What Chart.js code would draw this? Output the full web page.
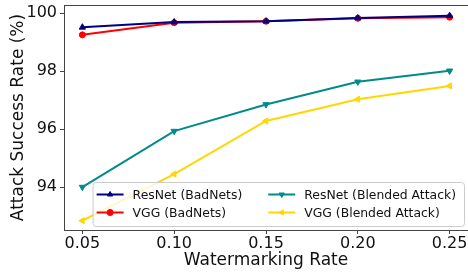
<!DOCTYPE html>
<html>
<head>
<meta charset="utf-8">
<script src="https://cdn.jsdelivr.net/npm/chart.js@4.4.0/dist/chart.umd.min.js"></script>
<style>
  html, body { margin: 0; padding: 0; background: #fff; }
  #wrap { width: 468px; height: 272px; }
</style>
</head>
<body>
<div id="wrap"><canvas id="chart" width="468" height="272"></canvas></div>
<script>
const rates = [0.05, 0.10, 0.15, 0.20, 0.25];
const resnetBadNets = [99.51, 99.69, 99.72, 99.83, 99.91];
const vggBadNets = [99.25, 99.67, 99.72, 99.82, 99.86];
const resnetBlended = [94.00, 95.93, 96.85, 97.63, 98.01];
const vggBlended = [92.84, 94.45, 96.28, 97.03, 97.49];
const xTicks = [0.05, 0.10, 0.15, 0.20, 0.25];
const yTicks = [94, 96, 98, 100];

const FONT = "'DejaVu Sans', sans-serif";

function series(label, values, color, style, rotation) {
  return {
    label,
    data: values.map((v, i) => ({ x: rates[i], y: v })),
    borderColor: color,
    backgroundColor: color,
    pointBackgroundColor: color,
    pointBorderColor: color,
    borderWidth: 2,
    pointStyle: style,
    pointRotation: rotation,
    pointRadius: style === 'circle' ? 3 : 3.6,
    pointBorderWidth: 1,
    tension: 0,
    fill: false
  };
}

// matplotlib-like frame and legend inside the axes
const framePlugin = {
  id: 'frame',
  afterDatasetsDraw(chart) {
    const { ctx, chartArea: a } = chart;
    ctx.save();
    ctx.strokeStyle = '#444';
    ctx.lineWidth = 1;
    ctx.strokeRect(a.left + 0.5, a.top + 0.5, a.right - a.left, a.bottom - a.top);

    // legend, two columns
    const sets = chart.data.datasets;
    ctx.font = '12.4px ' + FONT;
    const col1 = Math.max(ctx.measureText(sets[0].label).width, ctx.measureText(sets[1].label).width);
    const col2 = Math.max(ctx.measureText(sets[2].label).width, ctx.measureText(sets[3].label).width);
    const sample = 27, gap = 9, colGap = 26, padL = 4, padR = 8, rowH = 18;
    const w = padL + sample + gap + col1 + colGap + sample + gap + col2 + padR;
    const h = 44;
    const bx = a.right - 4 - w;
    const by = a.bottom - 4 - h;
    ctx.fillStyle = 'rgba(255,255,255,0.8)';
    ctx.strokeStyle = '#cccccc';
    ctx.lineWidth = 1;
    ctx.beginPath();
    ctx.roundRect(bx + 0.5, by + 0.5, w, h, 3);
    ctx.fill();
    ctx.stroke();

    sets.forEach((ds, i) => {
      const col = i < 2 ? 0 : 1;
      const row = i % 2;
      const x0 = bx + padL + (col === 1 ? sample + gap + col1 + colGap : 0);
      const y0 = by + 12.5 + row * rowH;
      ctx.strokeStyle = ds.borderColor;
      ctx.lineWidth = 2;
      ctx.beginPath();
      ctx.moveTo(x0, y0);
      ctx.lineTo(x0 + sample, y0);
      ctx.stroke();
      ctx.fillStyle = ds.borderColor;
      ctx.lineWidth = 1;
      Chart.helpers.drawPoint(ctx, {
        pointStyle: ds.pointStyle,
        rotation: ds.pointRotation,
        radius: 3,
        borderWidth: 1
      }, x0 + sample / 2, y0);
      ctx.fill();
      ctx.fillStyle = '#111';
      ctx.textBaseline = 'middle';
      ctx.textAlign = 'left';
      ctx.fillText(ds.label, x0 + sample + gap, y0 + 1);
    });
    ctx.restore();
  }
};

new Chart(document.getElementById('chart'), {
  type: 'line',
  data: {
    datasets: [
      series('ResNet (BadNets)', resnetBadNets, '#000080', 'triangle', 0),
      series('VGG (BadNets)', vggBadNets, '#ff0000', 'circle', 0),
      series('ResNet (Blended Attack)', resnetBlended, '#008b8b', 'triangle', 180),
      series('VGG (Blended Attack)', vggBlended, '#ffd700', 'triangle', 270)
    ]
  },
  options: {
    responsive: false,
    animation: false,
    clip: false,
    layout: { autoPadding: false, padding: { top: 5, right: 0, left: 8, bottom: 0 } },
    plugins: {
      legend: { display: false },
      tooltip: { enabled: false }
    },
    scales: {
      x: {
        type: 'linear',
        min: 0.04,
        max: 0.26,
        afterBuildTicks: s => { s.ticks = xTicks.map(v => ({ value: v })); },
        afterFit: s => { s.height = 42; s.paddingLeft = 0; s.paddingRight = 0; },
        grid: { drawOnChartArea: false, tickLength: 4, color: '#444' },
        border: { color: '#444' },
        ticks: {
          color: '#111',
          font: { family: FONT, size: 16, lineHeight: 1 },
          padding: 2,
          maxRotation: 0,
          callback: v => v.toFixed(2)
        },
        title: {
          display: true,
          text: 'Watermarking Rate',
          color: '#111',
          font: { family: FONT, size: 17 },
          padding: { top: 0, bottom: 1 }
        }
      },
      y: {
        min: 92.52,
        max: 100.28,
        afterBuildTicks: s => { s.ticks = yTicks.map(v => ({ value: v })); },
        afterFit: s => { s.width = 56; s.paddingTop = 0; s.paddingBottom = 0; },
        grid: { drawOnChartArea: false, tickLength: 4, color: '#444' },
        border: { color: '#444' },
        ticks: {
          color: '#111',
          font: { family: FONT, size: 16 },
          padding: 3,
          callback: v => String(v)
        },
        title: {
          display: true,
          text: 'Attack Success Rate (%)',
          color: '#111',
          font: { family: FONT, size: 17 },
          padding: { top: 0, bottom: 0 }
        }
      }
    }
  },
  plugins: [framePlugin]
});
</script>
</body>
</html>
